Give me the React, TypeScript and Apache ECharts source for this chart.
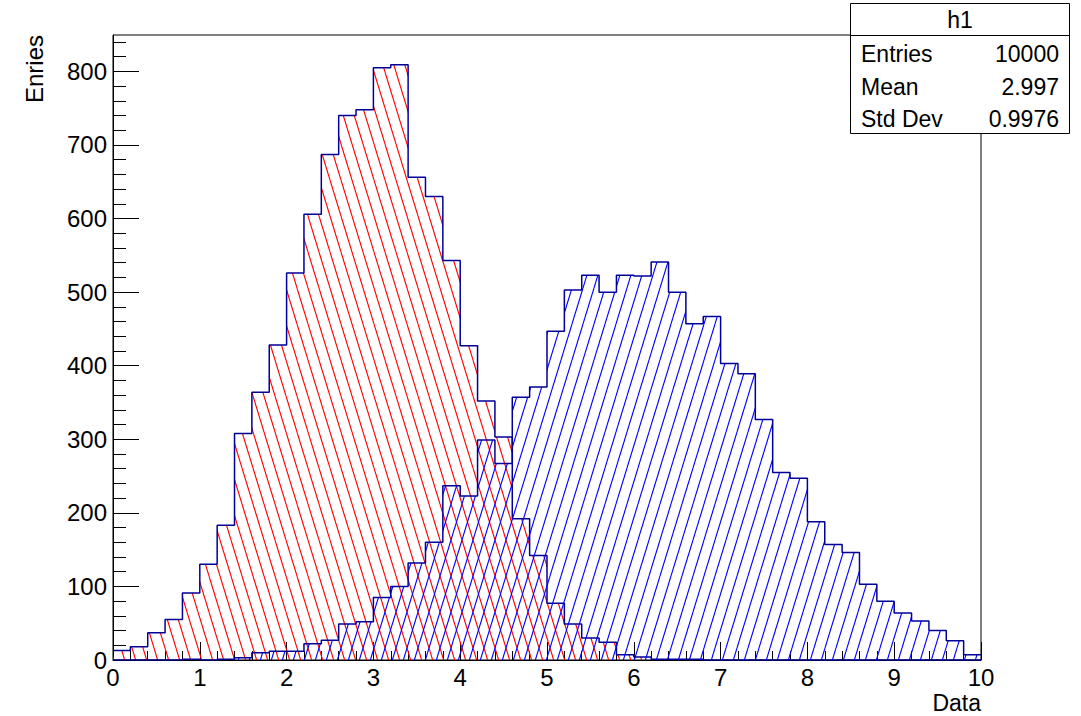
import React, { useEffect, useRef } from 'react';
import * as echarts from 'echarts';

// ---- data ----
const X_MIN = 0;
const X_MAX = 10;
const Y_MAX = 849.5;
const histTitle = 'h1';
const xTitle = 'Data';
const yTitle = 'Enries';

const redCounts = [
  13, 18, 37, 55, 91, 130, 183, 308, 364, 428,
  526, 606, 687, 740, 748, 805, 809, 656, 630, 543,
  427, 352, 303, 192, 142, 77, 49, 30, 24, 7,
  4, 1, 1, 1, 0, 0, 0, 0, 0, 0,
  0, 0, 0, 0, 0, 0, 0, 0, 0, 0,
];

const blueCounts = [
  0, 0, 0, 0, 1, 0, 1, 3, 10, 12,
  12, 22, 27, 49, 52, 85, 100, 132, 160, 237,
  223, 299, 267, 357, 371, 447, 503, 523, 500, 523,
  522, 541, 500, 457, 467, 403, 389, 327, 255, 247,
  188, 157, 146, 103, 80, 64, 53, 40, 26, 7,
];

const yMajorTicks = [0, 100, 200, 300, 400, 500, 600, 700, 800];
const yMinorTicks = [
  20, 40, 60, 80, 120, 140, 160, 180, 220, 240, 260, 280, 320, 340, 360, 380,
  420, 440, 460, 480, 520, 540, 560, 580, 620, 640, 660, 680, 720, 740, 760, 780,
  820, 840,
];

const statsLabels = ['Entries', 'Mean', 'Std Dev'];
const statsValues = ['10000', '2.997', '0.9976'];

const FONT = '"Liberation Sans", Arial, Helvetica, sans-serif';

function stepData(counts: number[]) {
  const w = (X_MAX - X_MIN) / counts.length;
  const pts: number[][] = counts.map((c, i) => [X_MIN + i * w, c]);
  pts.push([X_MAX, counts[counts.length - 1]]);
  return pts;
}

function hatch(color: string, dir: 'back' | 'fwd') {
  const w = 11;
  const h = 36;
  const c = document.createElement('canvas');
  c.width = w;
  c.height = h;
  const ctx = c.getContext('2d')!;
  ctx.strokeStyle = color;
  ctx.lineWidth = 1.1;
  for (const x0 of [-w, 0, w]) {
    ctx.beginPath();
    if (dir === 'back') {
      ctx.moveTo(x0, 0);
      ctx.lineTo(x0 + w, h);
    } else {
      ctx.moveTo(x0, h);
      ctx.lineTo(x0 + w, 0);
    }
    ctx.stroke();
  }
  return { image: c, repeat: 'repeat', imageWidth: w, imageHeight: h } as any;
}

export default function App() {
  const ref = useRef<HTMLDivElement>(null);

  useEffect(() => {
    if (!ref.current) return;
    const chart = echarts.init(ref.current, null, { renderer: 'svg' });
    const axisLineStyle = { color: '#000', width: 1 };
    const txt = (text: string, x: number, y: number, align: string, size = 23, extra: any = {}) => ({
      type: 'text',
      x,
      y,
      z: 102,
      ...extra,
      style: {
        text,
        fill: '#000',
        fontSize: size,
        fontFamily: FONT,
        align,
        textAlign: align,
        verticalAlign: 'middle',
        textVerticalAlign: 'middle',
      },
    });

    const graphics: any[] = [
      {
        type: 'rect',
        z: 100,
        shape: { x: 850.5, y: 3.5, width: 219, height: 130 },
        style: { fill: '#fff', stroke: '#000', lineWidth: 1 },
      },
      {
        type: 'line',
        z: 101,
        shape: { x1: 850.5, y1: 35.5, x2: 1069.5, y2: 35.5 },
        style: { stroke: '#000', lineWidth: 1 },
      },
      txt(histTitle, 960, 20, 'center'),
      txt(xTitle, 981, 703, 'right', 23),
      txt(yTitle, 34, 35, 'right', 24, { rotation: Math.PI / 2 }),
    ];
    statsLabels.forEach((l, i) => {
      graphics.push(txt(l, 861, 54 + i * 32.5, 'left'));
      graphics.push(txt(statsValues[i], 1059, 54 + i * 32.5, 'right'));
    });

    chart.setOption({
      animation: false,
      backgroundColor: '#fff',
      grid: {
        left: 113,
        right: 100,
        top: 35,
        bottom: 56,
        show: true,
        borderColor: '#000',
        borderWidth: 1,
        backgroundColor: 'transparent',
      },
      xAxis: [
        {
          type: 'value',
          min: X_MIN,
          max: X_MAX,
          interval: 1,
          position: 'bottom',
          axisLine: { show: true, onZero: false, lineStyle: axisLineStyle },
          axisTick: { show: true, inside: true, length: 18, lineStyle: axisLineStyle },
          minorTick: { show: true, splitNumber: 5, length: 9, lineStyle: axisLineStyle },
          axisLabel: { color: '#000', fontSize: 24, fontFamily: FONT, margin: 5 },
          splitLine: { show: false },
          minorSplitLine: { show: false },
        },
      ],
      yAxis: [
        {
          type: 'value',
          min: 0,
          max: Y_MAX,
          position: 'left',
          axisLine: { show: true, onZero: false, lineStyle: axisLineStyle },
          axisTick: { show: true, inside: true, length: 26, customValues: yMajorTicks, lineStyle: axisLineStyle },
          axisLabel: { color: '#000', fontSize: 24, fontFamily: FONT, margin: 6, customValues: yMajorTicks },
          splitLine: { show: false },
        },
        {
          type: 'value',
          min: 0,
          max: Y_MAX,
          position: 'left',
          axisLine: { show: false },
          axisTick: { show: true, inside: true, length: 13, customValues: yMinorTicks, lineStyle: axisLineStyle },
          axisLabel: { show: false },
          splitLine: { show: false },
        },
      ],
      series: [
        {
          type: 'line',
          step: 'end',
          symbol: 'none',
          data: stepData(redCounts),
          lineStyle: { color: '#000099', width: 1.5 },
          itemStyle: { color: '#000099' },
          areaStyle: { color: hatch('#ff0000', 'back'), opacity: 1 },
          z: 2,
        },
        {
          type: 'line',
          step: 'end',
          symbol: 'none',
          data: stepData(blueCounts),
          lineStyle: { color: '#000099', width: 1.5 },
          itemStyle: { color: '#000099' },
          areaStyle: { color: hatch('#0000ff', 'fwd'), opacity: 1 },
          z: 3,
        },
      ],
      graphic: graphics,
    });
    return () => chart.dispose();
  }, []);

  return (
    <div
      ref={ref}
      style={{ position: 'fixed', left: 0, top: 0, width: 1081, height: 716, background: '#fff' }}
    />
  );
}
